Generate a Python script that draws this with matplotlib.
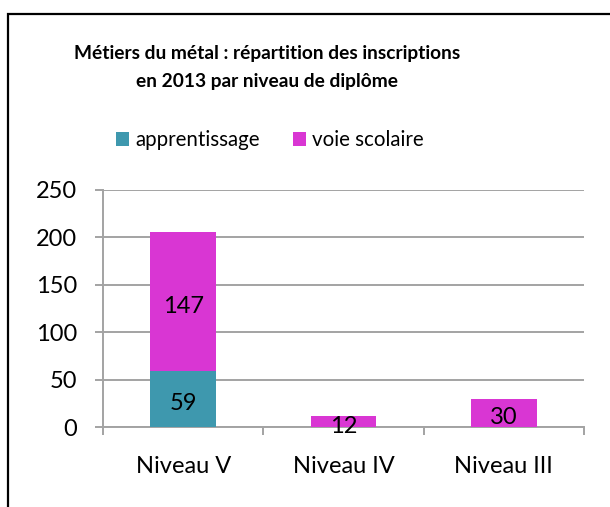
import matplotlib
matplotlib.use("Agg")
import matplotlib.pyplot as plt
from matplotlib.patches import Rectangle, Patch

categories = ["Niveau V", "Niveau IV", "Niveau III"]
apprentissage = [59, 0, 0]
voie_scolaire = [147, 12, 30]
yticks = [0, 50, 100, 150, 200, 250]
title = "Métiers du métal : répartition des inscriptions\nen 2013 par niveau de diplôme"

teal = "#3E98AE"
magenta = "#D936D3"
grid = "#A3A3A3"

plt.rcParams["font.family"] = ["Lato", "DejaVu Sans"]

W, H = 610, 507
fig = plt.figure(figsize=(W / 100, H / 100), dpi=100)

# outer frame
fig.patches.append(Rectangle((8 / W, -0.1), 1.2, 1 - 14 / H + 0.1,
                             transform=fig.transFigure, fill=False,
                             edgecolor="black", linewidth=1.6))

ax = fig.add_axes([103 / W, 1 - 427 / H, (584 - 103) / W, (427 - 190) / H])
x = list(range(len(categories)))
bw = 0.41
ax.bar(x, apprentissage, width=bw, color=teal, label="apprentissage", zorder=3)
ax.bar(x, voie_scolaire, width=bw, bottom=apprentissage, color=magenta,
       label="voie scolaire", zorder=3)

fs = 17
for i, v in enumerate(apprentissage):
    if v:
        ax.annotate(str(v), (i, v / 2), xytext=(0, -3.5), textcoords="offset points",
                    ha="center", va="center", fontsize=fs, zorder=4)
for i, v in enumerate(voie_scolaire):
    ax.annotate(str(v), (i, apprentissage[i] + v / 2), xytext=(0, -3.5),
                textcoords="offset points", ha="center", va="center",
                fontsize=fs, zorder=4)

ax.set_xlim(-0.5, len(categories) - 0.5)
ax.set_ylim(0, 250)
ax.set_yticks(yticks)
ax.set_yticklabels([str(t) for t in yticks], fontsize=fs)
ax.yaxis.grid(True, color=grid, linewidth=1.4, zorder=0)
ax.set_axisbelow(True)

ax.set_xticks([-0.5, 0.5, 1.5, 2.5])
ax.set_xticklabels([])
ax.set_xticks(x, minor=True)
ax.set_xticklabels(categories, minor=True, fontsize=fs)
ax.tick_params(axis="x", which="major", length=6, width=1.4, color=grid, direction="out")
ax.tick_params(axis="x", which="minor", length=0, pad=21)
ax.tick_params(axis="y", length=6, width=1.4, color=grid, pad=12.5)

for s in ["top", "right"]:
    ax.spines[s].set_visible(False)
for s in ["left", "bottom"]:
    ax.spines[s].set_color(grid)
    ax.spines[s].set_linewidth(1.4)

fig.text(267 / W, 1 - 67.5 / H, title, ha="center", va="center", fontsize=13.8,
         fontweight="bold", linespacing=1.78)

handles = [Patch(facecolor=teal), Patch(facecolor=magenta)]
fig.legend(handles, ["apprentissage", "voie scolaire"], loc="center",
           bbox_to_anchor=(270 / W, 1 - 140 / H), ncol=2, frameon=False,
           fontsize=14.8, handlelength=0.65, handleheight=0.65, handletextpad=0.3,
           columnspacing=1.6)

fig.savefig("out.png", dpi=100)
